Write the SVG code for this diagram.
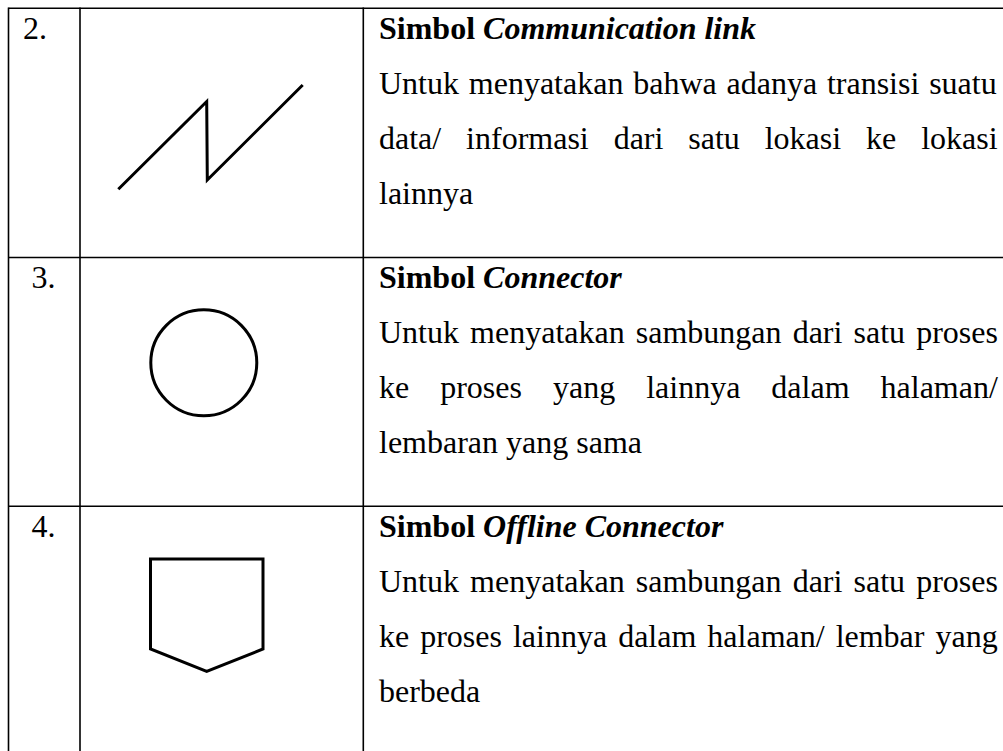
<svg xmlns="http://www.w3.org/2000/svg" width="1003" height="751" viewBox="0 0 1003 751">
  <style>
    .grid { stroke: #000; stroke-width: 1.6; fill: none; }
    .sym { stroke: #000; stroke-width: 3; fill: none; stroke-linejoin: miter; }
    text { font-family: "Liberation Serif", "Times New Roman", serif; font-size: 32px; fill: #000; }
    .b { font-weight: bold; }
    .bi { font-weight: bold; font-style: italic; }
  </style>
  <rect width="1003" height="751" fill="#fff"/>
  <g id="table-grid" class="grid">
    <line x1="8.5" y1="8.3" x2="1003" y2="8.3"/>
    <line x1="8.5" y1="257.5" x2="1003" y2="257.5"/>
    <line x1="8.5" y1="506.3" x2="1003" y2="506.3"/>
    <line x1="8.5" y1="7.5" x2="8.5" y2="751"/>
    <line x1="80" y1="7.5" x2="80" y2="751"/>
    <line x1="363.3" y1="7.5" x2="363.3" y2="751"/>
  </g>
  <g id="connectors"></g>
  <g id="row-2">
    <text x="23" y="39">2.</text>
    <polyline class="sym" points="118.3,189.3 206.7,101.5 207.3,180 302.7,85"/>
    <text x="379" y="39"><tspan class="b">Simbol </tspan><tspan class="bi">Communication link</tspan></text>
    <text x="379" y="94" word-spacing="1.8">Untuk menyatakan bahwa adanya transisi suatu</text>
    <text x="379" y="149" word-spacing="16.9">data/ informasi dari satu lokasi ke lokasi</text>
    <text x="379" y="204">lainnya</text>
  </g>
  <g id="row-3">
    <text x="31.5" y="288">3.</text>
    <circle class="sym" cx="203.8" cy="362.8" r="53"/>
    <text x="379" y="288"><tspan class="b">Simbol </tspan><tspan class="bi">Connector</tspan></text>
    <text x="379" y="343" word-spacing="3.1">Untuk menyatakan sambungan dari satu proses</text>
    <text x="379" y="398" word-spacing="23">ke proses yang lainnya dalam halaman/</text>
    <text x="379" y="453">lembaran yang sama</text>
  </g>
  <g id="row-4">
    <text x="31.5" y="537">4.</text>
    <polygon class="sym" points="150.5,559 263,559 263,649 206.7,671.5 150.5,649"/>
    <text x="379" y="537"><tspan class="b">Simbol </tspan><tspan class="bi">Offline Connector</tspan></text>
    <text x="379" y="592" word-spacing="3.1">Untuk menyatakan sambungan dari satu proses</text>
    <text x="379" y="647" word-spacing="3">ke proses lainnya dalam halaman/ lembar yang</text>
    <text x="379" y="702">berbeda</text>
  </g>
</svg>
